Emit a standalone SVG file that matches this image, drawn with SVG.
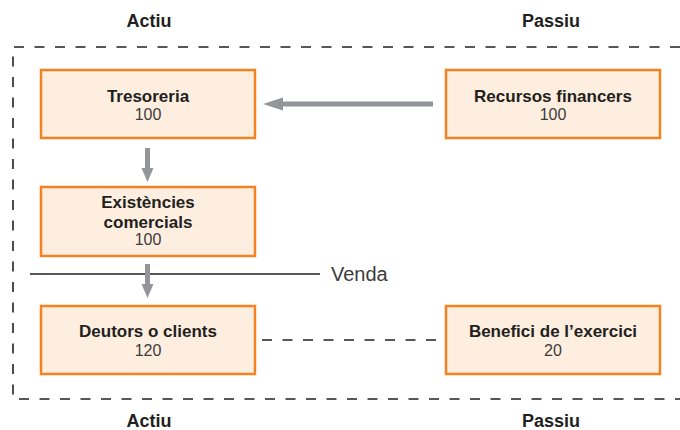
<svg xmlns="http://www.w3.org/2000/svg" width="680" height="430" viewBox="0 0 680 430">
<style>
.box{fill:#FDEEDF;stroke:#F58220;stroke-width:2.5}
.t{font-family:"Liberation Sans",Arial,sans-serif;font-size:17px;font-weight:bold;fill:#231F20;text-anchor:middle}
.n{font-family:"Liberation Sans",Arial,sans-serif;font-size:16px;fill:#3C3C3C;text-anchor:middle}
.h{font-family:"Liberation Sans",Arial,sans-serif;font-size:18px;font-weight:bold;fill:#231F20;text-anchor:middle}
.shaft{stroke:#939598;stroke-width:5;fill:none}
.head{fill:#939598}
.dash{stroke:#231F20;stroke-width:1.6;fill:none;stroke-dasharray:10 10.5}
</style>
<g id="frame">
<path class="dash" d="M680 47 L13 47 L13 399 L680 399"/>
</g>
<g id="headers">
<text class="h" x="149" y="27">Actiu</text>
<text class="h" x="551" y="27">Passiu</text>
<text class="h" x="149" y="427">Actiu</text>
<text class="h" x="551" y="427">Passiu</text>
</g>
<g id="tresoreria">
<rect class="box" x="41" y="70" width="214" height="68"/>
<text class="t" x="148" y="102">Tresoreria</text>
<text class="n" x="148" y="120">100</text>
</g>
<g id="recursos">
<rect class="box" x="446" y="70" width="214" height="68"/>
<text class="t" x="553" y="102">Recursos financers</text>
<text class="n" x="553" y="120">100</text>
</g>
<g id="existencies">
<rect class="box" x="41" y="187" width="214" height="69"/>
<text class="t" x="148" y="208">Existències</text>
<text class="t" x="148" y="228">comercials</text>
<text class="n" x="148" y="245">100</text>
</g>
<g id="deutors">
<rect class="box" x="41" y="306" width="214" height="68"/>
<text class="t" x="148" y="337">Deutors o clients</text>
<text class="n" x="148" y="356">120</text>
</g>
<g id="benefici">
<rect class="box" x="446" y="306" width="214" height="68"/>
<text class="t" x="553" y="337">Benefici de l’exercici</text>
<text class="n" x="553" y="356">20</text>
</g>
<g id="venda">
<line x1="30" y1="274" x2="320" y2="274" stroke="#231F20" stroke-width="1.3"/>
<text x="331" y="281" font-family="Liberation Sans,Arial,sans-serif" font-size="20" fill="#3C3C3C">Venda</text>
</g>
<g id="connectors">
<line class="shaft" x1="433" y1="104" x2="281" y2="104"/>
<polygon class="head" points="263,104 283,97.5 283,110.5"/>
<line class="shaft" x1="147.5" y1="148" x2="147.5" y2="170"/>
<polygon class="head" points="147.5,182 141.5,168 153.5,168"/>
<line class="shaft" x1="147.5" y1="264" x2="147.5" y2="286"/>
<polygon class="head" points="147.5,298 141.5,284 153.5,284"/>
<line class="dash" x1="262" y1="340" x2="442" y2="340"/>
</g>
</svg>
